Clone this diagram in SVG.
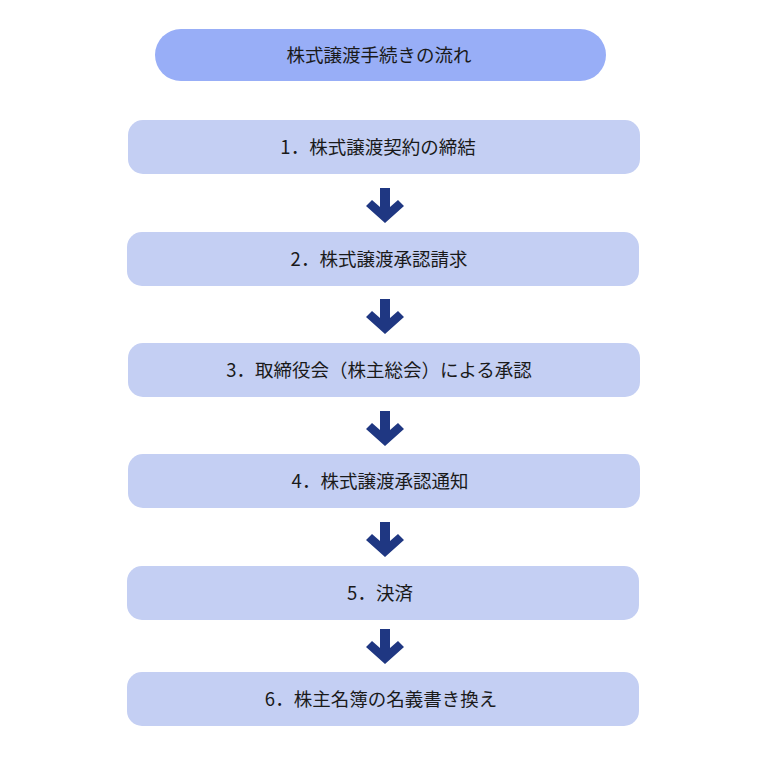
<svg xmlns="http://www.w3.org/2000/svg" xmlns:xlink="http://www.w3.org/1999/xlink" width="760" height="760" viewBox="0 0 760 760">
<style>
.title{fill:#98aef7}
.box{fill:#c4cff3}
.lbl{font-family:"Noto Sans CJK JP","Noto Sans",sans-serif;font-size:18.5px;fill:#1a1a1a;text-anchor:middle}
.arr{fill:#1f3782}
</style>
<defs>
<path id="arrow" d="M380,0 H390 V19 L398,12 L404,18 L385,35 L366,18 L372,12 L380,19 Z"/>
</defs>
<rect width="760" height="760" fill="#ffffff"/>
<g id="title">
<rect class="title" x="155" y="29" width="451" height="52" rx="26"/>
<text class="lbl" x="379" y="62">株式譲渡手続きの流れ</text>
</g>
<g id="step1">
<rect class="box" x="128" y="120" width="512" height="54" rx="15"/>
<text class="lbl" x="378" y="154">1．株式譲渡契約の締結</text>
</g>
<g id="step2">
<rect class="box" x="127" y="232" width="512" height="54" rx="15"/>
<text class="lbl" x="379" y="266">2．株式譲渡承認請求</text>
</g>
<g id="step3">
<rect class="box" x="128" y="343" width="512" height="54" rx="15"/>
<text class="lbl" x="379" y="377">3．取締役会（株主総会）による承認</text>
</g>
<g id="step4">
<rect class="box" x="128" y="454" width="512" height="54" rx="15"/>
<text class="lbl" x="380" y="488">4．株式譲渡承認通知</text>
</g>
<g id="step5">
<rect class="box" x="127" y="566" width="512" height="54" rx="15"/>
<text class="lbl" x="380" y="600">5．決済</text>
</g>
<g id="step6">
<rect class="box" x="127" y="672" width="512" height="54" rx="15"/>
<text class="lbl" x="381" y="706">6．株主名簿の名義書き換え</text>
</g>
<g id="connectors" class="arr">
<use xlink:href="#arrow" y="188"/>
<use xlink:href="#arrow" y="299"/>
<use xlink:href="#arrow" y="411"/>
<use xlink:href="#arrow" y="522"/>
<use xlink:href="#arrow" y="629"/>
</g>
</svg>
